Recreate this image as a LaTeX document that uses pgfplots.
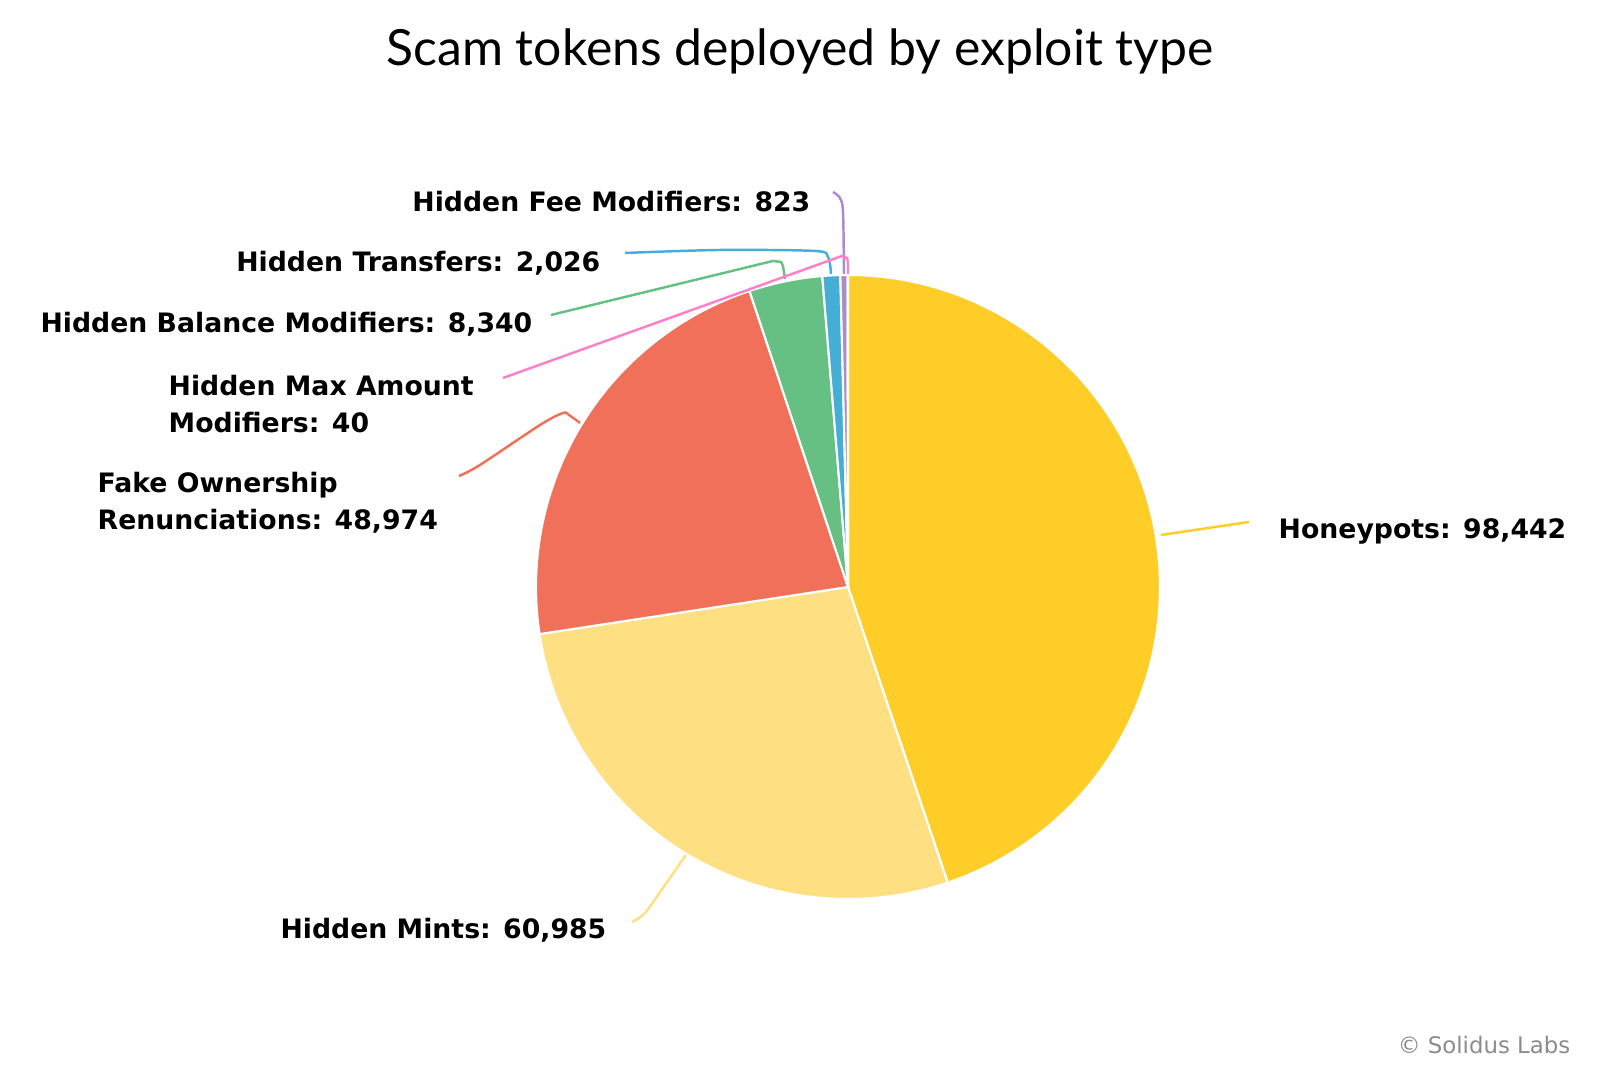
\documentclass[border=0pt]{standalone}
\usepackage{fontspec}
\setmainfont{DejaVu Sans}
\newfontfamily\titlefont{Lato}
\usepackage{pgfplots}
\usepackage{pgfplotstable}
\pgfplotsset{compat=1.18}

\definecolor{cHoney}{RGB}{255,205,39}
\definecolor{cMints}{RGB}{254,224,131}
\definecolor{cFake}{RGB}{240,112,90}
\definecolor{cBal}{RGB}{102,191,131}
\definecolor{cTrans}{RGB}{69,174,214}
\definecolor{cFee}{RGB}{170,140,200}
\definecolor{cMax}{RGB}{255,128,200}
\definecolor{cGray}{RGB}{140,140,140}

% slice values, in drawing order (clockwise from top)
\pgfplotstableread{
idx value
0 98442
1 60985
2 48974
3 8340
4 2026
5 823
6 40
}\piedata

\pgfplotstablegetelem{0}{value}\of\piedata \edef\vA{\pgfplotsretval}
\pgfplotstablegetelem{1}{value}\of\piedata \edef\vB{\pgfplotsretval}
\pgfplotstablegetelem{2}{value}\of\piedata \edef\vC{\pgfplotsretval}
\pgfplotstablegetelem{3}{value}\of\piedata \edef\vD{\pgfplotsretval}
\pgfplotstablegetelem{4}{value}\of\piedata \edef\vE{\pgfplotsretval}
\pgfplotstablegetelem{5}{value}\of\piedata \edef\vF{\pgfplotsretval}
\pgfplotstablegetelem{6}{value}\of\piedata \edef\vG{\pgfplotsretval}
\edef\vT{\fpeval{\vA+\vB+\vC+\vD+\vE+\vF+\vG}}
\edef\aA{\fpeval{360*(\vA)/\vT}}
\edef\aB{\fpeval{360*(\vA+\vB)/\vT}}
\edef\aC{\fpeval{360*(\vA+\vB+\vC)/\vT}}
\edef\aD{\fpeval{360*(\vA+\vB+\vC+\vD)/\vT}}
\edef\aE{\fpeval{360*(\vA+\vB+\vC+\vD+\vE)/\vT}}
\edef\aF{\fpeval{360*(\vA+\vB+\vC+\vD+\vE+\vF)/\vT}}

\newcommand\slice[3]{%
  \addplot[fill=#1, draw=white, line width=0.6pt, domain=#2:#3, samples=90, variable=\t]
    ({848+312*sin(\t)},{-587+312*cos(\t)}) -- (848,-587) -- cycle;}

\begin{document}
\begin{tikzpicture}
\path[use as bounding box] (0,0) rectangle (16cm,10.66cm);
\begin{axis}[at={(0,0)}, anchor=south west, width=16cm, height=10.66cm,
  scale only axis, xmin=0, xmax=1600, ymin=-1066, ymax=0,
  hide axis, clip=false]
\slice{cHoney}{0}{\aA}
\slice{cMints}{\aA}{\aB}
\slice{cFake}{\aB}{\aC}
\slice{cBal}{\aC}{\aD}
\slice{cTrans}{\aD}{\aE}
\slice{cFee}{\aE}{\aF}
\slice{cMax}{\aF}{360}

% leader lines
\addplot[cFee, line width=0.7pt, smooth] coordinates {(833,-192) (840,-198) (843,-212) (844,-274)};
\addplot[cTrans, line width=0.7pt, smooth] coordinates {(625,-253) (720,-250) (815,-251) (828,-257) (831,-274)};
\addplot[cBal, line width=0.7pt] coordinates {(551,-315) (773,-261) (781,-262) (783,-266) (785,-279)};
\addplot[cMax, line width=0.7pt] coordinates {(503,-378) (842,-256) (847,-258) (848,-262) (848,-274)};
\addplot[cFake, line width=0.7pt, smooth] coordinates {(459,-476) (480,-465) (540,-425) (563,-413) (569,-415) (580,-423)};
\addplot[cMints, line width=0.7pt, smooth] coordinates {(632,-922) (645,-913) (665,-885) (686,-855)};
\addplot[cHoney, line width=0.7pt] coordinates {(1161,-535) (1249,-522)};

% labels
\tikzset{lab/.style={font=\bfseries\fontsize{7.6}{10.5}\selectfont, inner sep=0pt, align=left}}
\node[lab, anchor=east] at (811,-202) {Hidden Fee Modifiers: 823};
\node[lab, anchor=east] at (601,-263) {Hidden Transfers: 2,026};
\node[lab, anchor=east] at (533,-324) {Hidden Balance Modifiers: 8,340};
\node[lab, anchor=west] at (168,-404) {Hidden Max Amount\\Modifiers: 40};
\node[lab, anchor=west] at (97,-503) {Fake Ownership\\Renunciations: 48,974};
\node[lab, anchor=east] at (607,-930) {Hidden Mints: 60,985};
\node[lab, anchor=west] at (1278,-531) {Honeypots: 98,442};
\node[anchor=east, inner sep=0pt, text=cGray, font=\fontsize{6.5}{8}\selectfont] at (1571,-1045) {\textcopyright{} Solidus Labs};
\node[inner sep=0pt, font=\titlefont\fontsize{14.2}{17}\selectfont] at (800,-51) {Scam tokens deployed by exploit type};
\end{axis}
\end{tikzpicture}
\end{document}
